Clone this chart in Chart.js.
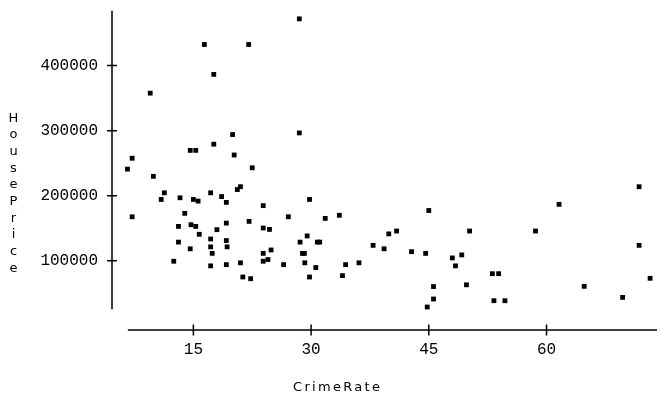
<!DOCTYPE html>
<html>
<head>
<meta charset="utf-8">
<script src="https://cdn.jsdelivr.net/npm/chart.js@4.4.1/dist/chart.umd.min.js"></script>
<style>
  html, body { margin: 0; padding: 0; background: #fff; }
  #wrap { width: 661px; height: 393px; }
</style>
</head>
<body>
<div id="wrap"><canvas id="chart" width="661" height="393"></canvas></div>
<script>
// data
const crimeRate = [
  28.5, 16.4, 22.05, 17.6, 9.5, 28.5, 20.0, 17.6, 14.6, 15.3, 20.2, 7.2, 6.6, 22.5, 9.9,
  11.3, 10.9, 13.3, 15.0, 15.6, 17.2, 18.6, 19.2, 7.2, 13.9, 13.1, 14.7, 15.3, 18.0, 19.2,
  15.75, 17.2, 19.2, 13.1, 17.2, 19.3, 14.6, 17.4, 12.5, 17.2, 19.2,
  20.6, 21.0, 23.9, 22.1, 23.9, 24.7, 27.1, 29.8, 31.8, 29.5, 28.6, 30.8, 31.1, 24.9,
  23.9, 28.9, 29.15, 21.0, 23.9, 24.5, 26.5, 29.2, 30.6, 21.3, 22.3, 29.8,
  33.6, 45.0, 39.9, 40.9, 37.9, 39.3, 42.8, 44.6, 34.4, 36.1, 34.0, 45.6, 45.6, 44.8,
  50.2, 58.6, 49.2, 48.0, 48.4, 53.1, 53.9, 49.8, 53.3, 54.7,
  71.8, 61.6, 71.8, 73.2, 64.8, 69.7
]
const housePrice = [
  471700, 432300, 432300, 386400, 357600, 296500, 294000, 279200, 269700, 269700, 262600, 257600, 240900, 242900, 229800,
  204500, 194300, 196900, 194300, 191800, 204500, 198800, 189800, 167700, 173000, 152900, 155500, 152900, 147900, 158000,
  140800, 133600, 131200, 128800, 121500, 121500, 118500, 111500, 99400, 92300, 94200,
  209500, 213900, 184800, 160600, 150500, 148300, 167700, 194300, 165200, 138300, 128800, 128800, 128800, 116700,
  111500, 111500, 111500, 97000, 99400, 102000, 94200, 97000, 89700, 75200, 72600, 75200,
  170000, 177300, 141400, 145800, 123800, 118500, 114100, 111500, 94200, 97000, 77300, 60500, 41400, 29100,
  145800, 145800, 109100, 104500, 92300, 80300, 80300, 63200, 38800, 38800,
  213900, 186800, 123800, 73200, 60900, 43900
]
const xTicks = [15, 30, 45, 60]
const yTicks = [100000, 200000, 300000, 400000]

// scale ranges and where the detached axis lines start/stop
const xMin = 4.63, xMax = 74.08
const yMin = -6200, yMax = 494500
const xAxisStart = 6.65
const yAxisTop = 484000, yAxisBottom = 25600

const tickFont = { family: "Liberation Mono", size: 16 }

// axis lines with crossing ticks, plus the two axis titles
const axisLines = {
  id: "axisLines",
  afterDraw(chart) {
    const { ctx, scales: { x, y } } = chart
    const ax = x.getPixelForValue(xMin)
    const ay = y.getPixelForValue(yMin)
    ctx.save()
    ctx.strokeStyle = "#000"
    ctx.lineWidth = 1.5
    ctx.beginPath()
    ctx.moveTo(ax, y.getPixelForValue(yAxisTop))
    ctx.lineTo(ax, y.getPixelForValue(yAxisBottom))
    ctx.moveTo(x.getPixelForValue(xAxisStart), ay)
    ctx.lineTo(x.getPixelForValue(xMax), ay)
    yTicks.forEach((v) => {
      const py = y.getPixelForValue(v)
      ctx.moveTo(ax - 5, py)
      ctx.lineTo(ax + 5, py)
    })
    xTicks.forEach((v) => {
      const px = x.getPixelForValue(v)
      ctx.moveTo(px, ay - 5.5)
      ctx.lineTo(px, ay + 5.5)
    })
    ctx.stroke()

    ctx.fillStyle = "#000"
    ctx.font = "13px 'DejaVu Sans'"
    ctx.letterSpacing = "2.3px"
    ctx.textAlign = "left"
    ctx.textBaseline = "alphabetic"
    ctx.fillText("CrimeRate", 293, 391)

    ctx.letterSpacing = "0px"
    ctx.textAlign = "center"
    "HousePrice".split("").forEach((ch, i) => {
      ctx.fillText(ch, 13.5, 121.5 + i * 16.67)
    })
    ctx.restore()
  },
}

new Chart(document.getElementById("chart"), {
  type: "scatter",
  data: {
    datasets: [
      {
        data: crimeRate.map((c, i) => ({ x: c, y: housePrice[i] })),
        pointStyle: "rect",
        pointRadius: 3.4,
        pointBorderWidth: 0,
        backgroundColor: "#000",
        borderColor: "#000",
      },
    ],
  },
  options: {
    responsive: false,
    animation: false,
    events: [],
    layout: { padding: 0 },
    plugins: { legend: { display: false }, tooltip: { enabled: false } },
    scales: {
      x: {
        type: "linear",
        min: xMin,
        max: xMax,
        grid: { display: false, drawTicks: false },
        border: { display: false },
        afterBuildTicks: (s) => { s.ticks = xTicks.map((v) => ({ value: v })) },
        afterFit: (s) => { s.height = 63; s.paddingLeft = 0; s.paddingRight = 0 },
        ticks: {
          color: "#000",
          font: tickFont,
          padding: 10,
          maxRotation: 0,
          autoSkip: false,
          callback: (v) => String(v),
        },
      },
      y: {
        type: "linear",
        min: yMin,
        max: yMax,
        grid: { display: false, drawTicks: false },
        border: { display: false },
        afterBuildTicks: (s) => { s.ticks = yTicks.map((v) => ({ value: v })) },
        afterFit: (s) => { s.width = 112; s.paddingTop = 0; s.paddingBottom = 0 },
        ticks: {
          color: "#000",
          font: tickFont,
          padding: 14,
          autoSkip: false,
          callback: (v) => String(v),
        },
      },
    },
  },
  plugins: [axisLines],
})
</script>
</body>
</html>
